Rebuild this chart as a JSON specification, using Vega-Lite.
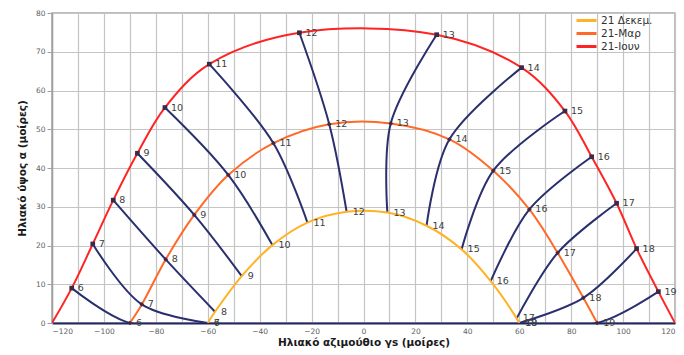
{
  "$schema": "https://vega.github.io/schema/vega-lite/v6.json",
  "autosize": "none",
  "width": 623,
  "height": 310,
  "padding": {"left": 52, "top": 13, "right": 9, "bottom": 32},
  "background": "white",
  "config": {
    "font": "DejaVu Sans",
    "view": {"stroke": "#a8a8a8", "strokeWidth": 1.5},
    "axis": {
      "gridColor": "#c4c4c4", "gridWidth": 1.2,
      "labelFont": "DejaVu Sans", "labelFontSize": 7.5, "labelColor": "#606060",
      "titleFont": "DejaVu Sans", "titleFontSize": 10.5, "titleFontWeight": "bold", "titleColor": "#1a1a1a",
      "tickColor": "#a0a0a0", "tickSize": 5
    }
  },
  "data": {
    "values": [
      {"s": "21-Ιουν", "k": 0, "h": null, "az": -120, "alt": 0},
      {"s": "21-Ιουν", "k": 0, "h": 6, "az": -112.4, "alt": 9.0},
      {"s": "21-Ιουν", "k": 0, "h": 7, "az": -104.3, "alt": 20.4},
      {"s": "21-Ιουν", "k": 0, "h": 8, "az": -96.4, "alt": 31.7},
      {"s": "21-Ιουν", "k": 0, "h": 9, "az": -87.1, "alt": 43.8},
      {"s": "21-Ιουν", "k": 0, "h": 10, "az": -76.5, "alt": 55.6},
      {"s": "21-Ιουν", "k": 0, "h": 11, "az": -59.4, "alt": 66.8},
      {"s": "21-Ιουν", "k": 0, "h": 12, "az": -24.7, "alt": 74.9},
      {"s": "21-Ιουν", "k": 0, "h": 13, "az": 28.2, "alt": 74.4},
      {"s": "21-Ιουν", "k": 0, "h": 14, "az": 60.9, "alt": 65.9},
      {"s": "21-Ιουν", "k": 0, "h": 15, "az": 77.6, "alt": 54.7},
      {"s": "21-Ιουν", "k": 0, "h": 16, "az": 87.9, "alt": 42.9},
      {"s": "21-Ιουν", "k": 0, "h": 17, "az": 97.5, "alt": 30.9},
      {"s": "21-Ιουν", "k": 0, "h": 18, "az": 105.2, "alt": 19.2},
      {"s": "21-Ιουν", "k": 0, "h": 19, "az": 113.6, "alt": 8.1},
      {"s": "21-Ιουν", "k": 0, "h": null, "az": 120, "alt": 0},
      {"s": "21-Μαρ", "k": 1, "h": 6, "az": -90, "alt": 0},
      {"s": "21-Μαρ", "k": 1, "h": 7, "az": -85.4, "alt": 4.8},
      {"s": "21-Μαρ", "k": 1, "h": 8, "az": -76.2, "alt": 16.4},
      {"s": "21-Μαρ", "k": 1, "h": 9, "az": -65.2, "alt": 27.9},
      {"s": "21-Μαρ", "k": 1, "h": 10, "az": -52.1, "alt": 38.2},
      {"s": "21-Μαρ", "k": 1, "h": 11, "az": -34.7, "alt": 46.4},
      {"s": "21-Μαρ", "k": 1, "h": 12, "az": -13.2, "alt": 51.3},
      {"s": "21-Μαρ", "k": 1, "h": 13, "az": 10.5, "alt": 51.5},
      {"s": "21-Μαρ", "k": 1, "h": 14, "az": 33.1, "alt": 47.4},
      {"s": "21-Μαρ", "k": 1, "h": 15, "az": 50.0, "alt": 39.3},
      {"s": "21-Μαρ", "k": 1, "h": 16, "az": 63.9, "alt": 29.3},
      {"s": "21-Μαρ", "k": 1, "h": 17, "az": 74.8, "alt": 18.1},
      {"s": "21-Μαρ", "k": 1, "h": 18, "az": 84.7, "alt": 6.5},
      {"s": "21-Μαρ", "k": 1, "h": 19, "az": 90, "alt": 0},
      {"s": "21 Δεκεμ.", "k": 2, "h": 6, "az": -60, "alt": 0},
      {"s": "21 Δεκεμ.", "k": 2, "h": 7, "az": -60, "alt": 0},
      {"s": "21 Δεκεμ.", "k": 2, "h": 8, "az": -57.2, "alt": 2.9},
      {"s": "21 Δεκεμ.", "k": 2, "h": 9, "az": -46.9, "alt": 12.1},
      {"s": "21 Δεκεμ.", "k": 2, "h": 10, "az": -35.1, "alt": 20.1},
      {"s": "21 Δεκεμ.", "k": 2, "h": 11, "az": -21.6, "alt": 25.9},
      {"s": "21 Δεκεμ.", "k": 2, "h": 12, "az": -6.5, "alt": 28.7},
      {"s": "21 Δεκεμ.", "k": 2, "h": 13, "az": 9.2, "alt": 28.5},
      {"s": "21 Δεκεμ.", "k": 2, "h": 14, "az": 24.3, "alt": 25.1},
      {"s": "21 Δεκεμ.", "k": 2, "h": 15, "az": 37.8, "alt": 19.0},
      {"s": "21 Δεκεμ.", "k": 2, "h": 16, "az": 49.0, "alt": 10.8},
      {"s": "21 Δεκεμ.", "k": 2, "h": 17, "az": 59.0, "alt": 1.2},
      {"s": "21 Δεκεμ.", "k": 2, "h": 18, "az": 60, "alt": 0},
      {"s": "21 Δεκεμ.", "k": 2, "h": 19, "az": 60, "alt": 0}
    ]
  },
  "encoding": {
    "x": {
      "field": "az", "type": "quantitative",
      "scale": {"domain": [-120, 120], "nice": false, "zero": false},
      "axis": {"values": [-120,-110,-100,-90,-80,-70,-60,-50,-40,-30,-20,-10,0,10,20,30,40,50,60,70,80,90,100,110,120],
               "title": "Ηλιακό αζιμούθιο γs (μοίρες)", "ticks": false, "labelPadding": 4, "titlePadding": 3,
               "domainColor": "#1f2660", "domainWidth": 2}
    },
    "y": {
      "field": "alt", "type": "quantitative",
      "scale": {"domain": [0, 80], "nice": false},
      "axis": {"values": [0,10,20,30,40,50,60,70,80], "title": "Ηλιακό ύψος α (μοίρες)",
               "labelPadding": 2, "titlePadding": 8, "domainColor": "#a0a0a0", "domainWidth": 1.5}
    }
  },
  "layer": [
    {
      "transform": [{"filter": "datum.h != null"}],
      "mark": {"type": "line", "interpolate": "catmull-rom", "color": "#2a2f6e", "strokeWidth": 2, "clip": true},
      "encoding": {"detail": {"field": "h"}, "order": {"field": "k"}}
    },
    {
      "mark": {"type": "line", "interpolate": "catmull-rom", "strokeWidth": 2, "clip": true},
      "encoding": {
        "color": {"field": "s", "type": "nominal",
          "scale": {"domain": ["21 Δεκεμ.", "21-Μαρ", "21-Ιουν"], "range": ["#ffb224", "#ff6a28", "#ff2424"]},
          "legend": {"title": null, "orient": "none", "legendX": 528, "legendY": 1,
            "symbolType": "M-2,0H2", "symbolStrokeWidth": 3, "symbolSize": 100,
            "labelFont": "DejaVu Sans", "labelFontSize": 10.5, "labelColor": "#303030",
            "rowPadding": -5, "padding": 0, "labelOffset": 8}}
      }
    },
    {
      "transform": [{"filter": "datum.h != null"}],
      "mark": {"type": "point", "filled": true, "size": 22, "color": "#3a2a4a", "opacity": 1},
      "encoding": {
        "shape": {"field": "k", "type": "nominal", "legend": null,
          "scale": {"domain": [2, 1, 0], "range": ["M-1,-1L1,1M-1,1L1,-1", "diamond", "square"]}}
      }
    },
    {
      "transform": [{"filter": "datum.h != null"}],
      "mark": {"type": "text", "align": "left", "baseline": "middle", "dx": 6, "fontSize": 9.5, "color": "#404040", "font": "DejaVu Sans"},
      "encoding": {"text": {"field": "h", "type": "quantitative"}}
    }
  ]
}
